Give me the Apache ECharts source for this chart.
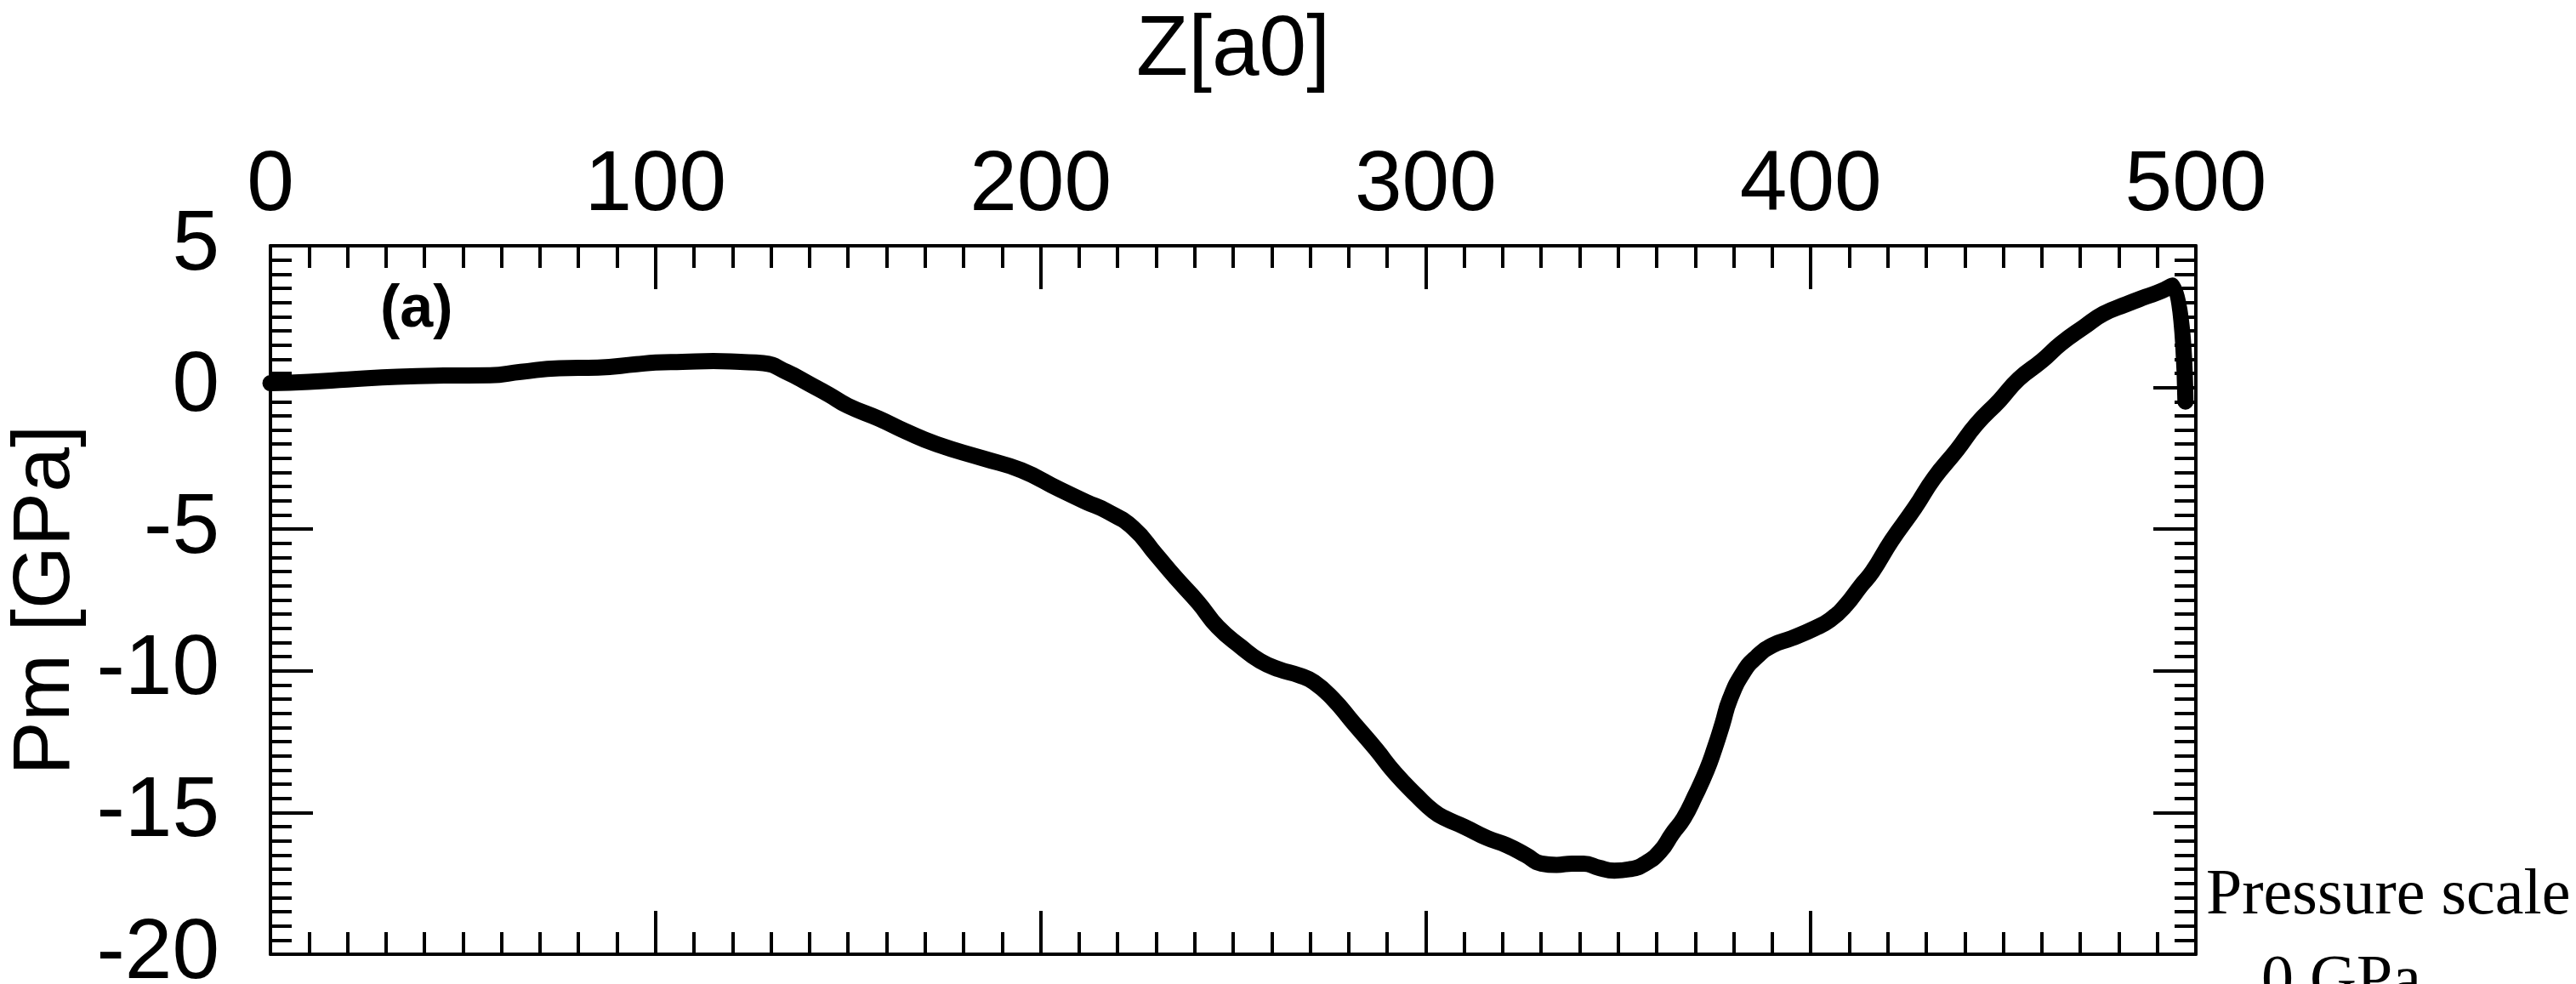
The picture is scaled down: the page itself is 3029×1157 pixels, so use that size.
<!DOCTYPE html>
<html>
<head>
<meta charset="utf-8">
<title>Pm vs Z</title>
<script src="https://cdn.jsdelivr.net/npm/echarts@6/dist/echarts.min.js"></script>
<style>
  html, body { margin: 0; padding: 0; background: #fff; }
  #main { width: 3029px; height: 1157px; }
</style>
</head>
<body>
<div id="main"></div>
<script>
// 数据: Z[a0] 与 Pm [GPa]
var zValues = [0, 10, 20, 33, 45, 57, 65, 75, 85, 95, 100, 107, 115, 122, 128, 134, 140, 145, 150, 158,
    165, 173, 185, 195, 205, 212, 217, 224, 230, 235, 241, 246, 252, 257, 262, 267, 271, 276, 281, 287,
    292, 298, 302, 305, 310, 316, 321, 326, 330, 334, 338, 341, 345, 349, 353, 357, 361, 364, 367, 370,
    373, 375, 377, 379, 382.5, 386, 390, 395, 401, 405, 409, 413, 416, 421, 427, 432, 438, 443, 449, 454,
    460, 465, 471, 476, 482, 487, 491, 494, 497.3];
var pmValues = [0.15, 0.2, 0.28, 0.38, 0.42, 0.43, 0.55, 0.68, 0.7, 0.82, 0.88, 0.9, 0.93, 0.9, 0.86, 0.55, 0.12, -0.25, -0.65, -1.1,
    -1.55, -2.0, -2.5, -2.92, -3.6, -4.05, -4.35, -4.95, -5.9, -6.7, -7.6, -8.45, -9.15, -9.65, -9.95, -10.15, -10.4, -11.0, -11.8, -12.75,
    -13.6, -14.45, -14.95, -15.2, -15.5, -15.9, -16.15, -16.5, -16.8, -16.85, -16.8, -16.8, -16.95, -17.05, -17.0, -16.8, -16.35, -15.75, -15.2, -14.4,
    -13.5, -12.75, -11.9, -11.0, -10.05, -9.5, -9.1, -8.85, -8.5, -8.2, -7.7, -7.0, -6.5, -5.4, -4.25, -3.2, -2.2, -1.3, -0.46, 0.3,
    0.94, 1.55, 2.14, 2.6, 2.94, 3.2, 3.4, 3.6, -0.5];
var xTicks = [0, 100, 200, 300, 400, 500];
var yTicks = [5, 0, -5, -10, -15, -20];

var points = zValues.map(function (z, i) { return [z, pmValues[i]]; });

var myChart = echarts.init(document.getElementById('main'));

var black = '#000';
var sans = 'Liberation Sans, Arial, sans-serif';
var serif = 'Liberation Serif, Times New Roman, serif';
var lineW = 4;

function xAxisCfg(pos, showLabel) {
    return {
        type: 'value',
        position: pos,
        min: xTicks[0],
        max: xTicks[xTicks.length - 1],
        interval: xTicks[1] - xTicks[0],
        axisLine: { show: true, onZero: false, lineStyle: { color: black, width: lineW } },
        axisTick: { show: true, inside: true, length: 51, lineStyle: { color: black, width: lineW } },
        minorTick: { show: true, splitNumber: 10, length: 26, lineStyle: { color: black, width: lineW } },
        axisLabel: { show: showLabel, color: black, fontSize: 100, fontFamily: sans, margin: 20 },
        splitLine: { show: false }
    };
}

function yAxisCfg(pos, showLabel) {
    return {
        type: 'value',
        position: pos,
        min: yTicks[yTicks.length - 1],
        max: yTicks[0],
        interval: yTicks[0] - yTicks[1],
        axisLine: { show: true, onZero: false, lineStyle: { color: black, width: lineW } },
        axisTick: { show: true, inside: true, length: 50, lineStyle: { color: black, width: lineW } },
        minorTick: { show: true, splitNumber: 10, length: 25, lineStyle: { color: black, width: lineW } },
        axisLabel: { show: showLabel, color: black, fontSize: 100, fontFamily: sans, margin: 60 },
        splitLine: { show: false }
    };
}

var topX = xAxisCfg('top', true);
topX.name = 'Z[a0]';
topX.nameLocation = 'middle';
topX.nameGap = 179;
topX.nameTextStyle = { color: black, fontSize: 100, fontFamily: sans };

var leftY = yAxisCfg('left', true);
leftY.name = 'Pm [GPa]';
leftY.nameLocation = 'middle';
leftY.nameGap = 200;
leftY.nameTextStyle = { color: black, fontSize: 95, fontFamily: sans };

var option = {
    animation: false,
    backgroundColor: '#fff',
    grid: { left: 318, right: 447, top: 289, bottom: 35, containLabel: false, outerBoundsMode: 'none' },
    xAxis: [topX, xAxisCfg('bottom', false)],
    yAxis: [leftY, yAxisCfg('right', false)],
    series: [{
        name: 'Pm',
        type: 'line',
        xAxisIndex: 0,
        yAxisIndex: 0,
        data: points,
        showSymbol: false,
        smooth: 0.5,
        lineStyle: { color: black, width: 19, cap: 'round', join: 'round' }
    }],
    graphic: [
        {
            type: 'text', left: 447, top: 330,
            style: { text: '(a)', fill: black, font: 'bold 70px ' + sans }
        },
        {
            type: 'text', x: 2594, y: 1054,
            style: { text: 'Pressure scale', fill: black, font: '76px ' + serif, textVerticalAlign: 'middle' }
        },
        {
            type: 'text', x: 2659, y: 1155,
            style: { text: '0 GPa', fill: black, font: '76px ' + serif, textVerticalAlign: 'middle' }
        }
    ]
};

myChart.setOption(option);
</script>
</body>
</html>
